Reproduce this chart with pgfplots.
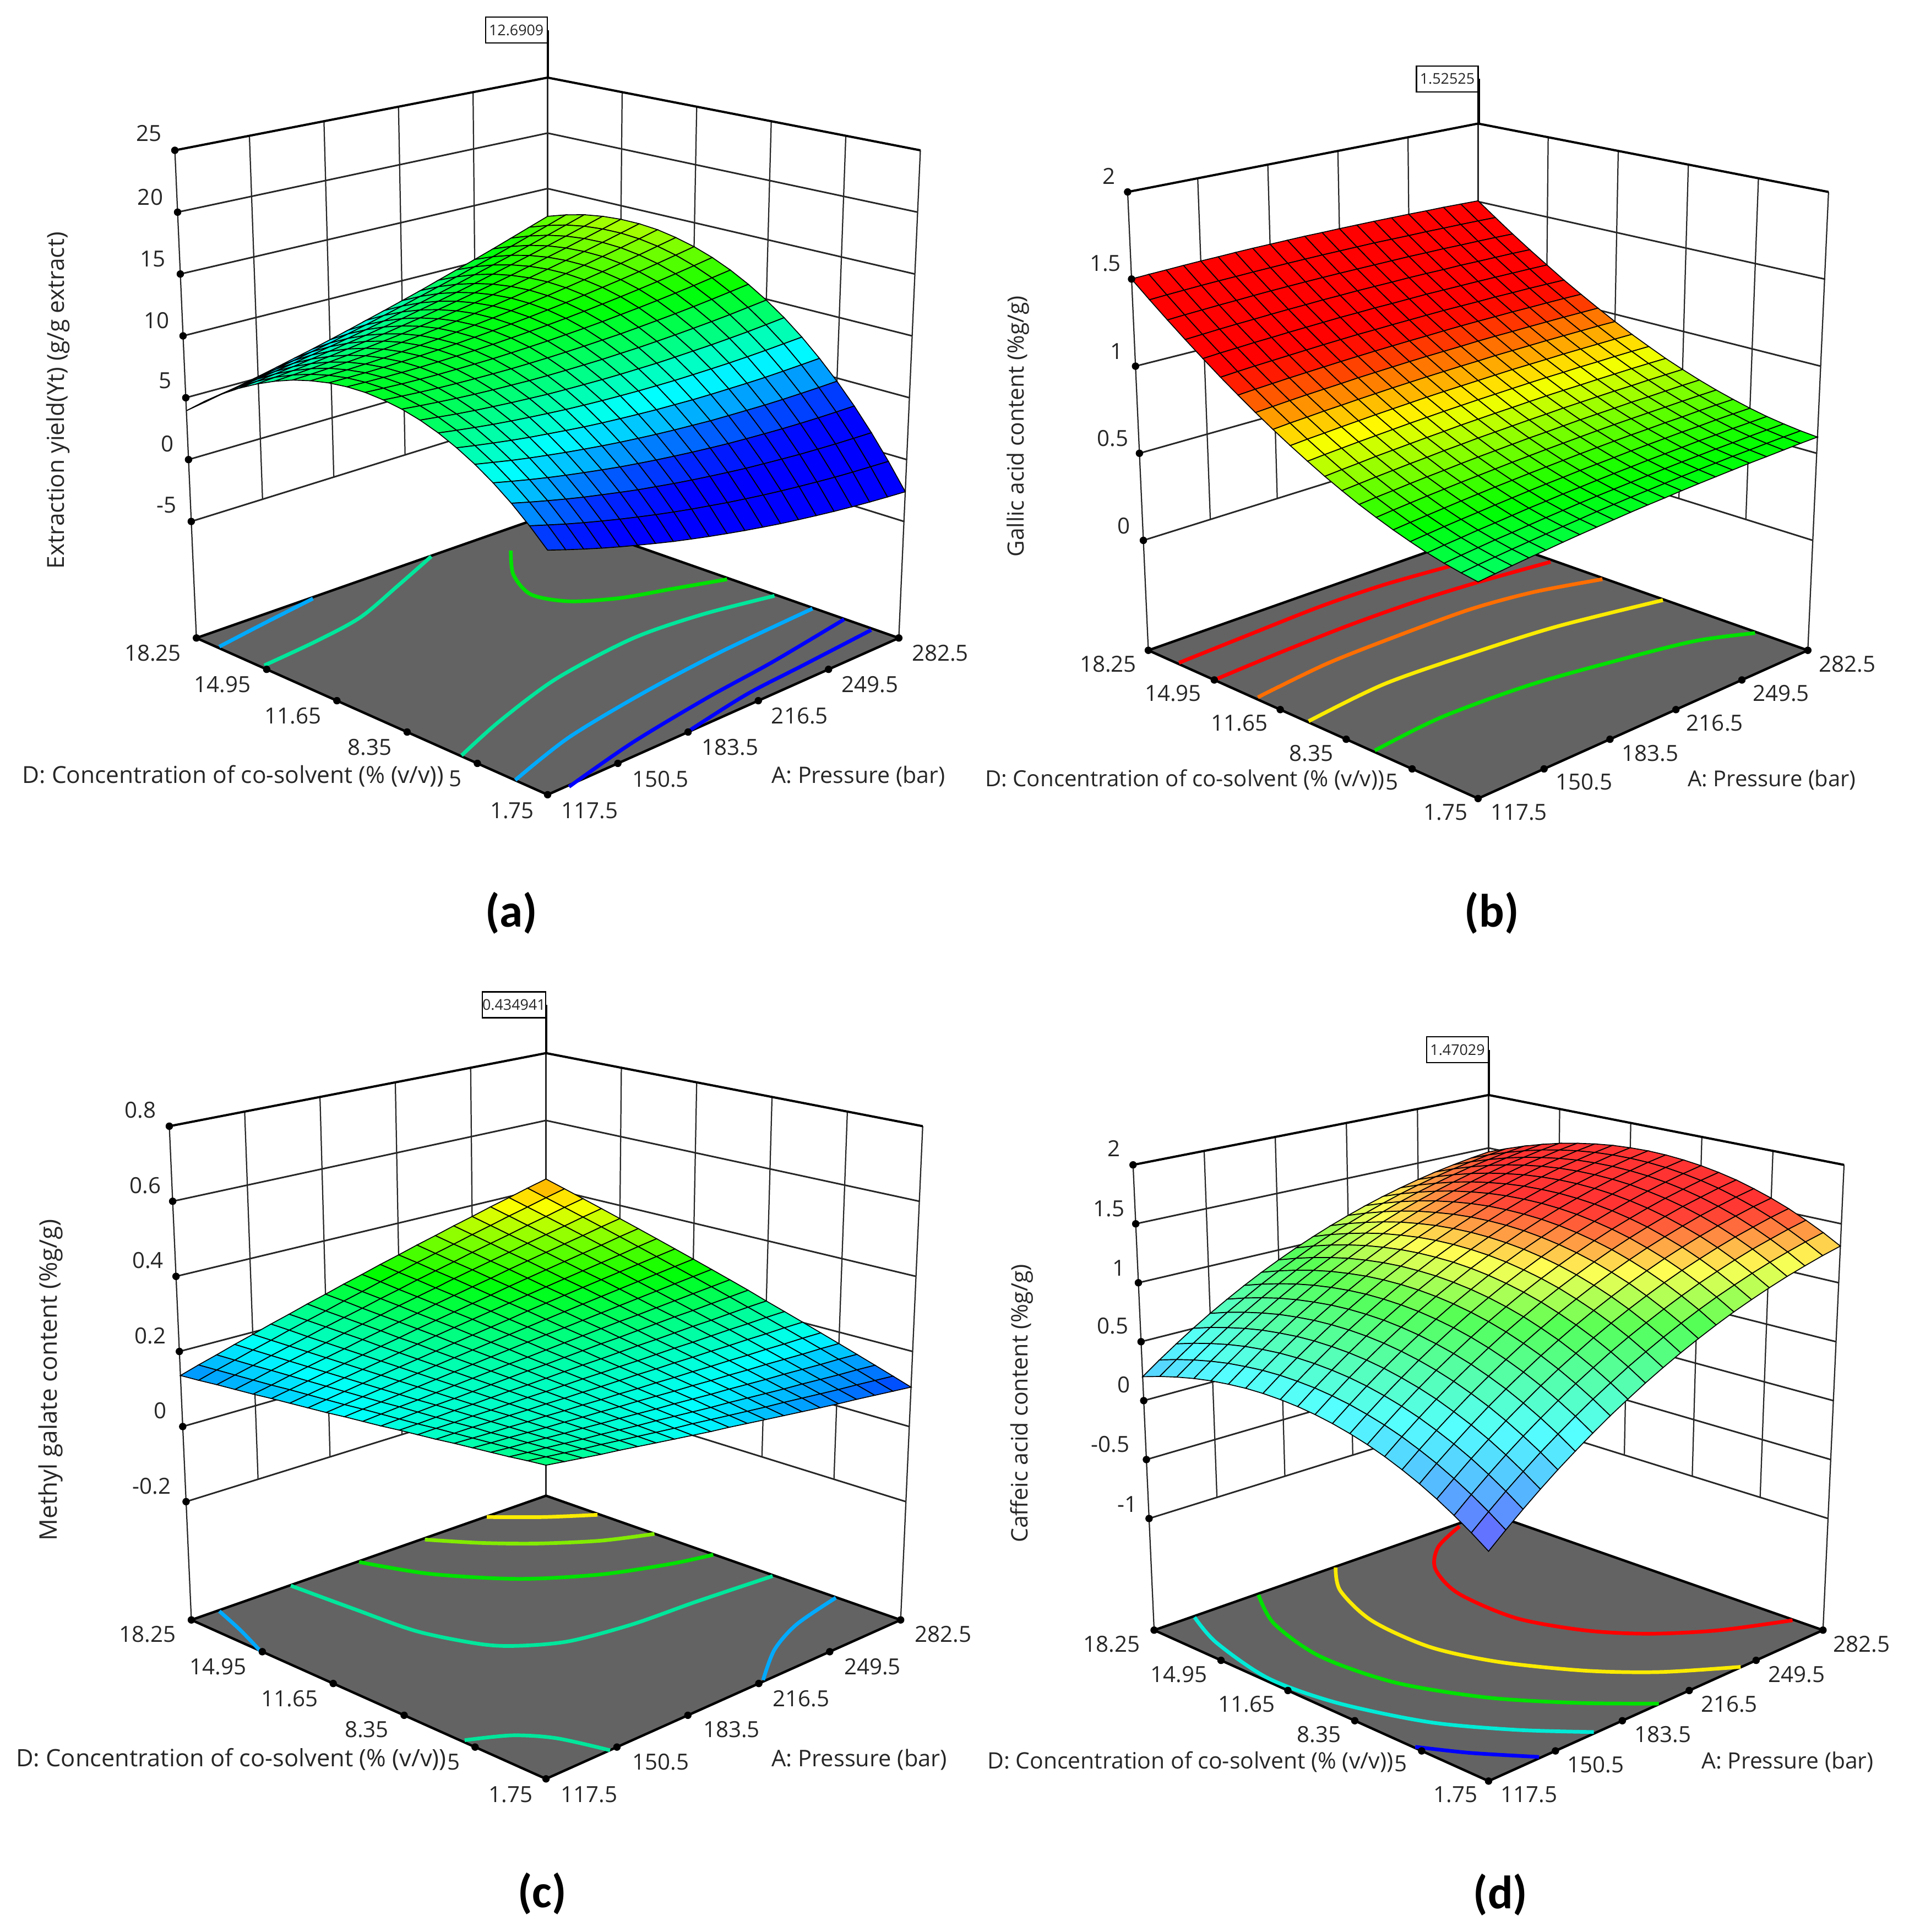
\documentclass[border=0pt]{standalone}
\usepackage{fontspec}
\setmainfont{Open Sans}
\newfontfamily\capfont{Carlito}
\usepackage{pgfplots}
\usepackage{pgfplotstable}
\pgfplotsset{compat=1.18}
\pgfplotsset{table/x index=0, table/y index=0}
\definecolor{ctblue}{RGB}{0,0,255}
\definecolor{ctsky}{RGB}{0,170,255}
\definecolor{ctteal}{RGB}{0,230,155}
\definecolor{ctaqua}{RGB}{0,235,215}
\definecolor{ctgreen}{RGB}{0,225,0}
\definecolor{ctlime}{RGB}{130,235,0}
\definecolor{ctyellow}{RGB}{250,235,0}
\definecolor{ctorange}{RGB}{255,110,0}
\definecolor{ctred}{RGB}{255,0,0}

% picture coordinates are the pixels of the 1549x1568 view, one panel box is mapped
% bilinearly: u along A (0 front, 1 right), v along D (0 front, 1 left), w height 0..1
\pgfkeys{/pgf/declare function={
  pxx(\uu,\vv,\ww)=\Xc+(\Wf+(\Wt-\Wf)*\ww)*(\uu-\vv);
  pyf(\uu,\vv)=\Yf+\dYf*(\uu+\vv)+\Ey*\uu*\vv;
  pyt(\uu,\vv)=\Yt+\dYt*(\uu+\vv)+\Ey*\uu*\vv;
  pyy(\uu,\vv,\ww)=(1-\ww)*pyf(\uu,\vv)+\ww*pyt(\uu,\vv);
  wf(\zz)=(\zz-\Zf)/(\Zt-\Zf);
}}
\newcommand{\setpanel}[1]{\setpanelx#1\relax}
\def\setpanelx#1,#2,#3,#4,#5,#6,#7,#8,#9\relax{%
  \def\Xc{#1}\def\Wf{#2}\def\Wt{#3}\def\Yf{#4}\def\dYf{#5}\def\Yt{#6}\def\dYt{#7}\def\Ey{#8}\setpanely#9\relax}
\def\setpanely#1,#2,#3\relax{\def\Zf{#1}\def\Zt{#2}\def\Zb{#3}}

% the row number has to survive the rounding of the float unit
\def\gR{floor((\coordindex+0.5)/21)}
\def\gU{(1-(\coordindex-21*\gR)/20)}
\def\gV{(1-\gR/20)}

\pgfplotsset{
  panel/.style={hide axis, scale only axis, width=1549pt, height=1568pt,
    xmin=0, xmax=1549, ymin=0, ymax=1568, y dir=reverse, clip=false,
    at={(0,0)}, anchor=south west},
  gline/.style={line width=1.3pt, black!85, forget plot},
  cont/.style={line width=3pt, smooth, forget plot, no markers},
}
\newcommand{\fsz}[1]{\fontsize{#1}{#1}\selectfont}
\tikzset{
  tl/.style={font=\fsz{18}, inner sep=0pt, text=black!85},
  captxt/.style={font=\capfont\bfseries\fontsize{38}{40}\selectfont, inner sep=0pt},
  flag/.style={font=\fontsize{12}{13}\selectfont, draw=black, line width=1pt, fill=white,
    inner sep=0pt, minimum height=21pt, text=black!85},
}

\pgfplotstableread{
t
0
1
}\tabSeg
\pgfplotstableread{
u v
0 1
1 1
1 0
}\tabLvl
\pgfplotstableread{
u v
0 0
1 0
1 1
0 1
0 0
}\tabFloor
\pgfplotstableread{
u v
0 1
0 0.8
0 0.6
0 0.4
0 0.2
0 0
0.2 0
0.4 0
0.6 0
0.8 0
1 0
}\tabDots
\pgfplotstableread{
u v
0 1
}\tabPt

% walls, tick levels and floor of one box, #1 = the tick levels of the height axis
\newcommand{\panelbox}[1]{%
  \pgfplotsinvokeforeach{0.2,0.4,0.6,0.8}{%
    \addplot[gline, line width=1pt] table[x expr={pxx(##1,1,wf(\Zb+(\Zt-\Zb)*\thisrow{t}))},
      y expr={pyy(##1,1,wf(\Zb+(\Zt-\Zb)*\thisrow{t}))}]{\tabSeg};
    \addplot[gline, line width=1pt] table[x expr={pxx(1,##1,wf(\Zb+(\Zt-\Zb)*\thisrow{t}))},
      y expr={pyy(1,##1,wf(\Zb+(\Zt-\Zb)*\thisrow{t}))}]{\tabSeg};
  }
  \addplot[gline, line width=1pt] table[x expr={pxx(0,1,\thisrow{t})}, y expr={pyy(0,1,\thisrow{t})}]{\tabSeg};
  \addplot[gline, line width=1pt] table[x expr={pxx(1,0,\thisrow{t})}, y expr={pyy(1,0,\thisrow{t})}]{\tabSeg};
  \addplot[gline, line width=1.2pt] table[x expr={pxx(1,1,\thisrow{t})}, y expr={pyy(1,1,\thisrow{t})}]{\tabSeg};
  \pgfplotsinvokeforeach{#1}{%
    \addplot[gline] table[x expr={pxx(\thisrow{u},\thisrow{v},wf(##1))},
      y expr={pyy(\thisrow{u},\thisrow{v},wf(##1))}]{\tabLvl};
    \addplot[only marks, mark=*, mark size=2.8pt, black, forget plot] table[x expr={pxx(0,1,wf(##1))},
      y expr={pyy(0,1,wf(##1))}]{\tabPt};
  }
  \addplot[line width=1.8pt, black, forget plot] table[x expr={pxx(\thisrow{u},\thisrow{v},1)},
    y expr={pyy(\thisrow{u},\thisrow{v},1)}]{\tabLvl};
  \addplot[line width=2pt, black, fill=black!61, forget plot] table[x expr={pxx(\thisrow{u},\thisrow{v},0)},
    y expr={pyy(\thisrow{u},\thisrow{v},0)}]{\tabFloor};
  \addplot[only marks, mark=*, mark size=2.8pt, black, forget plot] table[x expr={pxx(\thisrow{u},\thisrow{v},0)},
    y expr={pyy(\thisrow{u},\thisrow{v},0)}]{\tabDots};
}
\newcommand{\meshsurf}[1]{%
  \addplot[surf, shader=faceted, faceted color=black, line width=0.75pt, mesh/rows=21, mesh/cols=21,
    point meta=\thisrow{z}, forget plot] table[x expr={pxx(\gU,\gV,wf(\thisrow{z}))},
    y expr={pyy(\gU,\gV,wf(\thisrow{z}))}]{#1};
}
% flag: right edge x, box centre y, y of the back top corner
\newcommand{\flagnote}[4]{%
  \addplot[line width=2pt, black, forget plot] coordinates {(#1,#2) (#1,#3)};
  \node[flag, anchor=east, minimum width=50pt] at (axis cs:#1,#2) {#4};
}

% Extraction yield, rows v=1..0, columns u=1..0
\pgfplotstableread[row sep=\\]{
z\\
12.50\\11.92\\11.35\\10.79\\10.26\\9.75\\9.25\\8.75\\8.29\\7.84\\7.41\\6.98\\6.58\\6.19\\5.83\\5.47\\5.13\\4.81\\4.51\\4.22\\3.95\\
13.03\\12.48\\11.95\\11.43\\10.93\\10.46\\9.99\\9.54\\9.11\\8.69\\8.30\\7.91\\7.55\\7.19\\6.87\\6.55\\6.24\\5.96\\5.69\\5.45\\5.21\\
13.43\\12.92\\12.42\\11.94\\11.48\\11.04\\10.61\\10.19\\9.80\\9.42\\9.06\\8.71\\8.38\\8.06\\7.78\\7.50\\7.23\\6.98\\6.75\\6.54\\6.34\\
13.68\\13.21\\12.75\\12.31\\11.88\\11.48\\11.09\\10.70\\10.35\\10.01\\9.69\\9.37\\9.08\\8.80\\8.55\\8.30\\8.07\\7.86\\7.67\\7.49\\7.33\\
13.80\\13.36\\12.94\\12.53\\12.15\\11.78\\11.42\\11.08\\10.76\\10.46\\10.17\\9.89\\9.64\\9.39\\9.18\\8.97\\8.77\\8.60\\8.44\\8.31\\8.18\\
13.79\\13.39\\13.00\\12.63\\12.28\\11.95\\11.63\\11.32\\11.04\\10.77\\10.52\\10.28\\10.07\\9.86\\9.68\\9.51\\9.35\\9.21\\9.09\\8.99\\8.90\\
13.65\\13.28\\12.93\\12.60\\12.28\\11.99\\11.71\\11.44\\11.19\\10.96\\10.75\\10.54\\10.36\\10.19\\10.05\\9.91\\9.79\\9.69\\9.61\\9.54\\9.49\\
13.35\\13.03\\12.71\\12.41\\12.14\\11.88\\11.64\\11.40\\11.19\\11.00\\10.82\\10.66\\10.51\\10.37\\10.27\\10.17\\10.08\\10.02\\9.97\\9.95\\9.93\\
12.94\\12.65\\12.37\\12.11\\11.87\\11.65\\11.44\\11.24\\11.07\\10.91\\10.77\\10.65\\10.54\\10.44\\10.37\\10.31\\10.26\\10.23\\10.22\\10.23\\10.25\\
12.39\\12.13\\11.89\\11.67\\11.47\\11.28\\11.11\\10.95\\10.81\\10.69\\10.59\\10.50\\10.42\\10.36\\10.33\\10.30\\10.29\\10.30\\10.33\\10.37\\10.43\\
11.70\\11.49\\11.28\\11.10\\10.93\\10.78\\10.65\\10.52\\10.42\\10.34\\10.27\\10.22\\10.18\\10.15\\10.16\\10.17\\10.19\\10.24\\10.30\\10.39\\10.48\\
10.87\\10.69\\10.52\\10.37\\10.24\\10.13\\10.03\\9.94\\9.89\\9.84\\9.81\\9.79\\9.79\\9.80\\9.84\\9.89\\9.95\\10.03\\10.13\\10.25\\10.38\\
9.92\\9.78\\9.64\\9.53\\9.44\\9.36\\9.30\\9.25\\9.23\\9.21\\9.22\\9.24\\9.27\\9.32\\9.40\\9.48\\9.58\\9.70\\9.84\\9.99\\10.16\\
8.83\\8.72\\8.62\\8.55\\8.49\\8.46\\8.43\\8.41\\8.43\\8.45\\8.49\\8.55\\8.62\\8.70\\8.82\\8.94\\9.08\\9.23\\9.40\\9.60\\9.80\\
7.60\\7.54\\7.48\\7.44\\7.42\\7.42\\7.43\\7.45\\7.50\\7.56\\7.64\\7.73\\7.84\\7.96\\8.11\\8.27\\8.44\\8.63\\8.84\\9.07\\9.31\\
6.23\\6.20\\6.18\\6.17\\6.19\\6.23\\6.27\\6.33\\6.42\\6.51\\6.63\\6.76\\6.90\\7.06\\7.25\\7.45\\7.65\\7.88\\8.13\\8.39\\8.67\\
4.74\\4.74\\4.76\\4.79\\4.84\\4.92\\5.00\\5.09\\5.22\\5.35\\5.50\\5.67\\5.85\\6.05\\6.27\\6.50\\6.75\\7.01\\7.29\\7.60\\7.91\\
3.11\\3.15\\3.20\\3.27\\3.36\\3.47\\3.59\\3.72\\3.88\\4.05\\4.24\\4.44\\4.66\\4.89\\5.15\\5.42\\5.70\\6.00\\6.32\\6.66\\7.01\\
1.34\\1.42\\1.51\\1.62\\1.74\\1.89\\2.05\\2.21\\2.41\\2.62\\2.84\\3.08\\3.34\\3.60\\3.90\\4.21\\4.52\\4.86\\5.22\\5.59\\5.98\\
-.57\\-.45\\-.33\\-.19\\-.02\\.16\\.35\\.56\\.79\\1.03\\1.30\\1.57\\1.86\\2.17\\2.50\\2.84\\3.20\\3.57\\3.96\\4.38\\4.80\\
-2.60\\-2.45\\-2.29\\-2.11\\-1.91\\-1.69\\-1.46\\-1.22\\-.95\\-.67\\-.37\\-.06\\.27\\.61\\.98\\1.36\\1.75\\2.16\\2.59\\3.04\\3.50\\
}\tabA
% Gallic acid
\pgfplotstableread[row sep=\\]{
z\\
1.505\\1.509\\1.513\\1.515\\1.518\\1.520\\1.522\\1.523\\1.524\\1.524\\1.525\\1.524\\1.523\\1.522\\1.520\\1.517\\1.515\\1.512\\1.508\\1.505\\1.500\\
1.423\\1.427\\1.430\\1.432\\1.435\\1.436\\1.438\\1.440\\1.440\\1.440\\1.440\\1.439\\1.438\\1.436\\1.434\\1.431\\1.429\\1.426\\1.422\\1.418\\1.413\\
1.344\\1.348\\1.351\\1.353\\1.356\\1.357\\1.359\\1.359\\1.359\\1.359\\1.359\\1.358\\1.357\\1.355\\1.353\\1.350\\1.346\\1.343\\1.339\\1.335\\1.330\\
1.270\\1.274\\1.276\\1.278\\1.281\\1.281\\1.283\\1.284\\1.283\\1.283\\1.283\\1.281\\1.280\\1.277\\1.275\\1.272\\1.268\\1.265\\1.261\\1.256\\1.251\\
1.200\\1.203\\1.205\\1.207\\1.209\\1.210\\1.211\\1.212\\1.211\\1.210\\1.210\\1.208\\1.207\\1.204\\1.201\\1.198\\1.194\\1.191\\1.186\\1.182\\1.176\\
1.132\\1.135\\1.138\\1.139\\1.141\\1.141\\1.142\\1.143\\1.142\\1.141\\1.140\\1.138\\1.137\\1.134\\1.131\\1.127\\1.123\\1.119\\1.115\\1.110\\1.104\\
1.070\\1.073\\1.075\\1.076\\1.078\\1.078\\1.079\\1.079\\1.078\\1.076\\1.075\\1.073\\1.071\\1.068\\1.065\\1.061\\1.057\\1.053\\1.048\\1.043\\1.037\\
1.011\\1.013\\1.015\\1.016\\1.017\\1.017\\1.018\\1.018\\1.016\\1.015\\1.014\\1.012\\1.009\\1.006\\1.003\\.998\\.994\\.990\\.985\\.979\\.973\\
.955\\.958\\.959\\.960\\.961\\.961\\.961\\.961\\.959\\.958\\.956\\.954\\.951\\.948\\.944\\.940\\.935\\.931\\.925\\.920\\.913\\
.904\\.906\\.907\\.908\\.909\\.908\\.908\\.908\\.906\\.904\\.902\\.900\\.897\\.893\\.889\\.885\\.880\\.875\\.869\\.864\\.857\\
.857\\.859\\.860\\.860\\.861\\.860\\.860\\.859\\.857\\.855\\.853\\.850\\.847\\.843\\.839\\.834\\.829\\.824\\.818\\.812\\.805\\
.812\\.814\\.815\\.815\\.815\\.814\\.814\\.813\\.811\\.808\\.806\\.803\\.800\\.795\\.791\\.786\\.781\\.776\\.769\\.763\\.756\\
.773\\.774\\.775\\.774\\.775\\.774\\.773\\.772\\.769\\.767\\.764\\.761\\.758\\.753\\.749\\.743\\.738\\.732\\.726\\.719\\.712\\
.737\\.738\\.738\\.737\\.738\\.736\\.735\\.734\\.731\\.728\\.726\\.722\\.718\\.714\\.709\\.703\\.698\\.692\\.685\\.679\\.671\\
.705\\.706\\.706\\.705\\.705\\.704\\.703\\.701\\.698\\.695\\.692\\.688\\.684\\.679\\.674\\.669\\.663\\.657\\.650\\.643\\.635\\
.677\\.678\\.678\\.676\\.676\\.674\\.673\\.671\\.668\\.665\\.661\\.657\\.653\\.648\\.643\\.637\\.631\\.624\\.617\\.610\\.602\\
.652\\.653\\.653\\.651\\.651\\.649\\.647\\.645\\.641\\.638\\.635\\.630\\.626\\.621\\.615\\.609\\.602\\.596\\.589\\.581\\.573\\
.631\\.631\\.631\\.629\\.629\\.626\\.624\\.622\\.618\\.615\\.611\\.606\\.602\\.596\\.591\\.584\\.577\\.571\\.563\\.556\\.547\\
.615\\.615\\.614\\.612\\.611\\.609\\.607\\.604\\.600\\.596\\.592\\.588\\.583\\.577\\.571\\.564\\.557\\.551\\.543\\.535\\.526\\
.602\\.602\\.601\\.599\\.598\\.595\\.593\\.590\\.586\\.582\\.578\\.573\\.568\\.561\\.555\\.548\\.541\\.534\\.526\\.518\\.509\\
.593\\.593\\.591\\.589\\.588\\.585\\.582\\.579\\.575\\.570\\.566\\.561\\.555\\.549\\.543\\.536\\.528\\.521\\.513\\.504\\.495\\
}\tabB
% Methyl galate
\pgfplotstableread[row sep=\\]{
z\\
.426\\.412\\.397\\.383\\.368\\.354\\.339\\.325\\.310\\.296\\.281\\.267\\.252\\.238\\.223\\.209\\.194\\.180\\.165\\.151\\.136\\
.410\\.397\\.383\\.370\\.356\\.343\\.329\\.316\\.303\\.289\\.276\\.262\\.249\\.235\\.222\\.209\\.195\\.182\\.168\\.155\\.141\\
.394\\.382\\.369\\.357\\.344\\.332\\.320\\.307\\.295\\.283\\.270\\.258\\.245\\.233\\.221\\.208\\.196\\.184\\.171\\.159\\.147\\
.378\\.367\\.355\\.344\\.333\\.321\\.310\\.299\\.288\\.276\\.265\\.254\\.242\\.231\\.220\\.208\\.197\\.186\\.175\\.163\\.152\\
.362\\.352\\.341\\.331\\.321\\.311\\.301\\.290\\.280\\.270\\.260\\.249\\.239\\.229\\.219\\.208\\.198\\.188\\.178\\.167\\.157\\
.346\\.337\\.327\\.318\\.309\\.300\\.291\\.282\\.272\\.263\\.254\\.245\\.236\\.226\\.217\\.208\\.199\\.190\\.181\\.172\\.163\\
.330\\.322\\.313\\.305\\.297\\.289\\.281\\.273\\.265\\.257\\.249\\.241\\.233\\.225\\.216\\.208\\.200\\.192\\.184\\.176\\.168\\
.314\\.307\\.300\\.293\\.286\\.279\\.272\\.265\\.258\\.250\\.243\\.236\\.229\\.222\\.215\\.208\\.201\\.194\\.187\\.180\\.173\\
.298\\.292\\.286\\.280\\.274\\.268\\.262\\.256\\.250\\.244\\.238\\.232\\.226\\.220\\.214\\.208\\.202\\.196\\.190\\.184\\.178\\
.282\\.277\\.272\\.267\\.262\\.257\\.252\\.247\\.242\\.238\\.233\\.228\\.223\\.218\\.213\\.208\\.203\\.198\\.193\\.189\\.184\\
.266\\.262\\.258\\.254\\.250\\.246\\.243\\.239\\.235\\.231\\.227\\.223\\.220\\.216\\.212\\.208\\.204\\.200\\.197\\.193\\.189\\
.250\\.247\\.244\\.241\\.239\\.236\\.233\\.230\\.228\\.225\\.222\\.219\\.217\\.214\\.211\\.208\\.205\\.203\\.200\\.197\\.194\\
.233\\.232\\.230\\.228\\.227\\.225\\.223\\.222\\.220\\.218\\.217\\.215\\.213\\.211\\.210\\.208\\.206\\.205\\.203\\.201\\.200\\
.217\\.217\\.216\\.216\\.215\\.214\\.214\\.213\\.212\\.212\\.211\\.211\\.210\\.209\\.209\\.208\\.207\\.207\\.206\\.206\\.205\\
.201\\.202\\.202\\.203\\.203\\.204\\.204\\.205\\.205\\.206\\.206\\.206\\.207\\.207\\.208\\.208\\.209\\.209\\.210\\.210\\.210\\
.185\\.187\\.188\\.190\\.191\\.193\\.194\\.196\\.197\\.199\\.200\\.202\\.203\\.205\\.206\\.208\\.209\\.211\\.212\\.214\\.216\\
.169\\.172\\.174\\.177\\.180\\.182\\.185\\.187\\.190\\.192\\.195\\.198\\.200\\.203\\.205\\.208\\.210\\.213\\.216\\.218\\.221\\
.153\\.157\\.160\\.164\\.168\\.171\\.175\\.179\\.182\\.186\\.190\\.193\\.197\\.201\\.204\\.208\\.211\\.215\\.219\\.222\\.226\\
.137\\.142\\.146\\.151\\.156\\.160\\.165\\.170\\.175\\.179\\.184\\.189\\.194\\.198\\.203\\.208\\.212\\.217\\.222\\.226\\.231\\
.121\\.127\\.133\\.138\\.144\\.150\\.156\\.161\\.167\\.173\\.179\\.185\\.190\\.196\\.202\\.208\\.214\\.219\\.225\\.231\\.237\\
.105\\.112\\.119\\.126\\.132\\.139\\.146\\.153\\.160\\.167\\.174\\.180\\.187\\.194\\.201\\.208\\.215\\.221\\.228\\.235\\.242\\
}\tabC
% Caffeic acid
\pgfplotstableread[row sep=\\]{
z\\
1.463\\1.441\\1.414\\1.384\\1.349\\1.309\\1.266\\1.218\\1.165\\1.109\\1.048\\.983\\.913\\.840\\.762\\.679\\.593\\.502\\.406\\.307\\.203\\
1.529\\1.507\\1.479\\1.449\\1.413\\1.373\\1.329\\1.280\\1.227\\1.170\\1.109\\1.044\\.972\\.899\\.820\\.737\\.651\\.559\\.462\\.362\\.258\\
1.588\\1.565\\1.536\\1.506\\1.469\\1.428\\1.384\\1.335\\1.281\\1.223\\1.161\\1.096\\1.024\\.950\\.870\\.787\\.700\\.607\\.510\\.410\\.305\\
1.639\\1.616\\1.587\\1.555\\1.518\\1.477\\1.432\\1.382\\1.328\\1.269\\1.207\\1.141\\1.068\\.994\\.914\\.830\\.742\\.649\\.552\\.450\\.345\\
1.683\\1.659\\1.629\\1.597\\1.559\\1.517\\1.472\\1.421\\1.367\\1.308\\1.245\\1.178\\1.105\\1.030\\.949\\.864\\.777\\.683\\.585\\.483\\.377\\
1.717\\1.693\\1.662\\1.630\\1.591\\1.549\\1.503\\1.452\\1.396\\1.337\\1.273\\1.206\\1.133\\1.057\\.976\\.890\\.802\\.707\\.609\\.506\\.400\\
1.745\\1.720\\1.689\\1.656\\1.617\\1.574\\1.528\\1.476\\1.420\\1.360\\1.296\\1.228\\1.154\\1.078\\.996\\.910\\.821\\.726\\.627\\.524\\.417\\
1.765\\1.739\\1.708\\1.674\\1.634\\1.591\\1.544\\1.492\\1.435\\1.374\\1.310\\1.241\\1.167\\1.090\\1.008\\.921\\.831\\.736\\.636\\.533\\.425\\
1.776\\1.750\\1.718\\1.684\\1.644\\1.599\\1.552\\1.499\\1.442\\1.381\\1.316\\1.246\\1.171\\1.094\\1.011\\.924\\.834\\.737\\.637\\.533\\.425\\
1.781\\1.754\\1.721\\1.686\\1.646\\1.601\\1.553\\1.499\\1.442\\1.380\\1.314\\1.245\\1.169\\1.091\\1.007\\.920\\.829\\.732\\.631\\.527\\.418\\
1.777\\1.750\\1.716\\1.681\\1.640\\1.594\\1.546\\1.492\\1.434\\1.371\\1.305\\1.235\\1.158\\1.080\\.996\\.907\\.816\\.719\\.618\\.512\\.403\\
1.765\\1.738\\1.704\\1.668\\1.626\\1.580\\1.531\\1.476\\1.417\\1.355\\1.288\\1.217\\1.140\\1.061\\.976\\.887\\.795\\.698\\.596\\.490\\.380\\
1.746\\1.717\\1.683\\1.646\\1.604\\1.558\\1.508\\1.453\\1.393\\1.330\\1.262\\1.191\\1.114\\1.034\\.949\\.859\\.767\\.668\\.566\\.459\\.349\\
1.719\\1.690\\1.655\\1.618\\1.575\\1.528\\1.478\\1.422\\1.362\\1.298\\1.230\\1.158\\1.080\\1.000\\.914\\.824\\.731\\.632\\.529\\.422\\.311\\
1.685\\1.655\\1.619\\1.582\\1.538\\1.491\\1.440\\1.384\\1.323\\1.258\\1.190\\1.117\\1.039\\.958\\.871\\.781\\.687\\.588\\.484\\.377\\.265\\
1.641\\1.611\\1.575\\1.537\\1.492\\1.444\\1.393\\1.336\\1.275\\1.210\\1.140\\1.067\\.988\\.907\\.820\\.729\\.635\\.534\\.430\\.322\\.210\\
1.591\\1.561\\1.524\\1.485\\1.441\\1.392\\1.340\\1.282\\1.221\\1.155\\1.085\\1.011\\.932\\.850\\.762\\.671\\.576\\.475\\.370\\.262\\.149\\
1.533\\1.502\\1.464\\1.425\\1.380\\1.330\\1.278\\1.220\\1.157\\1.091\\1.021\\.947\\.866\\.784\\.696\\.603\\.508\\.407\\.302\\.192\\.079\\
1.466\\1.434\\1.396\\1.357\\1.311\\1.261\\1.208\\1.149\\1.086\\1.019\\.949\\.874\\.793\\.710\\.621\\.528\\.432\\.331\\.225\\.115\\.001\\
1.393\\1.360\\1.322\\1.281\\1.235\\1.184\\1.131\\1.072\\1.008\\.941\\.869\\.794\\.712\\.629\\.540\\.446\\.350\\.247\\.141\\.030\\-.084\\
1.311\\1.278\\1.239\\1.198\\1.151\\1.100\\1.046\\.986\\.922\\.854\\.782\\.706\\.624\\.540\\.450\\.356\\.259\\.156\\.049\\-.062\\-.177\\
}\tabD

\begin{document}
\begin{tikzpicture}
\useasboundingbox (0,0) rectangle (1549pt,1568pt);

% ---------- (a)
\setpanel{444.4,285,302.5,645,-127.2,208.4,-86.4,27.4,-14.42,25,-5}
\begin{axis}[panel, colormap={ca}{rgb255=(0,0,255) rgb255=(0,255,255) rgb255=(0,255,0) rgb255=(255,255,0) rgb255=(255,0,0)},
  point meta min=3, point meta max=19]
\flagnote{444.5}{24.5}{63}{12.6909}
\panelbox{-5,0,5,10,15,20,25}
\addplot[cont, color=ctsky] coordinates {(178,524.8) (215.5,505.3) (254,485.8)};
\addplot[cont, color=ctteal] coordinates {(214.5,540) (256.6,520.4) (292.5,501) (323.3,475) (350,451.6)};
\addplot[cont, color=ctgreen] coordinates {(414.6,446.8) (416.6,466.3) (431,482.5) (461.8,488) (502.8,485.4) (543.9,478.2) (590,470.2)};
\addplot[cont, color=ctteal] coordinates {(374.6,613.1) (405.3,585.4) (451.5,550.8) (513.1,518.3) (569.5,498.8) (628.5,483.6)};
\addplot[cont, color=ctsky] coordinates {(418.2,633.1) (461.8,598.4) (523.4,561.6) (584.9,529.1) (659.3,494)};
\addplot[cont, color=ctblue] coordinates {(461.8,638.5) (513.1,602.8) (574.7,565.9) (626,537.8) (685,502.7)};
\addplot[cont, color=ctblue] coordinates {(559.3,593) (605.5,563.8) (651.6,540) (707,511.3)};
\meshsurf{\tabA}
\foreach \t/\x/\y in {25/121/108,20/122/160,15/124/210,10/127/260,5/134/309,0/136/360,-5/135/410,
  18.25/124/530,14.95/180.6/555.5,11.65/237.6/581,8.35/300/606.6,5/369.4/632,1.75/415.6/658,
  117.5/478.7/658,150.5/536/632.6,183.5/592.6/606.6,216.5/649/581,249.5/706/555.5,282.5/763/530}
  {\edef\tmp{\noexpand\node[tl] at (axis cs:\x,\y) {\t};}\tmp}
\node[tl, anchor=west, font=\fsz{19}] at (axis cs:18,630) {D: Concentration of co-solvent (\% (v/v))};
\node[tl, anchor=west, font=\fsz{18.4}] at (axis cs:626,630) {A: Pressure (bar)};
\node[tl, rotate=90, font=\fsz{19}] at (axis cs:47,325) {Extraction yield(Yt) (g/g extract)};
\node[captxt] at (axis cs:415,741) {(a)};
\end{axis}

% ---------- (b)
\setpanel{1199.5,267.6,284.4,648.1,-120.3,237.3,-81.5,26,-.631,2,0}
\begin{axis}[panel, colormap={cb}{rgb255=(0,0,255) rgb255=(0,255,255) rgb255=(0,255,0) rgb255=(255,255,0) rgb255=(255,0,0)},
  point meta min=.1, point meta max=1.1]
\flagnote{1200}{64}{100.3}{1.52525}
\panelbox{0,0.5,1,1.5,2}
\addplot[cont, color=ctred] coordinates {(956.8,537.9) (1015.2,514.5) (1071.3,492.3) (1122.8,474.7) (1176.5,459.6)};
\addplot[cont, color=ctred] coordinates {(988.1,550.7) (1038.6,529.7) (1094.7,507.5) (1150.8,487.6) (1199.9,472.4) (1258.3,456)};
\addplot[cont, color=ctorange] coordinates {(1020.8,565.9) (1076,539) (1132.1,516.8) (1192.9,494.6) (1244.3,480.6) (1300.4,470.1)};
\addplot[cont, color=ctyellow] coordinates {(1062,585.3) (1122.8,555.4) (1192.9,530.8) (1263,508.6) (1349.5,487.1)};
\addplot[cont, color=ctgreen] coordinates {(1115.7,609.1) (1169.5,582.2) (1239.6,556.5) (1309.8,536.7) (1375.2,520.3) (1424.3,513.8)};
\meshsurf{\tabB}
\foreach \t/\x/\y in {2/900/143,1.5/897/214,1/906/285,0.5/903/356,0/912/427,
  18.25/899.3/539,14.95/952/562.8,11.65/1005.9/587,8.35/1064.3/611.5,5/1129.8/634.8,1.75/1173.2/659.4,
  117.5/1232.6/659.4,150.5/1285.4/634.8,183.5/1339.2/611.5,216.5/1391.6/587,249.5/1445.3/562.8,282.5/1499/539}
  {\edef\tmp{\noexpand\node[tl] at (axis cs:\x,\y) {\t};}\tmp}
\node[tl, anchor=west, font=\fsz{18}] at (axis cs:799.2,633) {D: Concentration of co-solvent (\% (v/v))};
\node[tl, anchor=west, font=\fsz{17.8}] at (axis cs:1369.6,633) {A: Pressure (bar)};
\node[tl, rotate=90, font=\fsz{18.2}] at (axis cs:826,346) {Gallic acid content (\%g/g)};
\node[captxt] at (axis cs:1210.6,741) {(b)};
\end{axis}

% ---------- (c)
\setpanel{443.1,287.8,305.7,1443.7,-129,1001.5,-87.5,28.2,-.515,.8,-.2}
\begin{axis}[panel, colormap={cc}{rgb255=(0,0,255) rgb255=(0,255,255) rgb255=(0,255,0) rgb255=(255,255,0) rgb255=(255,0,0)},
  point meta min=.085, point meta max=.485]
\flagnote{443.2}{815.5}{854.7}{0.434941}
\panelbox{-0.2,0,0.2,0.4,0.6,0.8}
\addplot[cont, color=ctyellow] coordinates {(395.1,1231.2) (441.3,1231.2) (484.9,1229.4)};
\addplot[cont, color=ctlime] coordinates {(344.8,1249.5) (390,1252.2) (436.1,1252.7) (487.4,1250.4) (531.1,1244.9)};
\addplot[cont, color=ctgreen] coordinates {(291.4,1267.7) (348.9,1277.3) (420.7,1281.4) (487.4,1277.8) (543.9,1269.3) (578.8,1261.8)};
\addplot[cont, color=ctteal] coordinates {(236,1286.9) (287.3,1305.8) (338.6,1324) (390,1334.3) (420.7,1335.7) (461.8,1332) (513.1,1318.3) (564.4,1300.1) (627,1279.1)};
\addplot[cont, color=ctsky] coordinates {(178,1307.6) (195,1322.9) (211.4,1340)};
\addplot[cont, color=ctsky] coordinates {(678.3,1296.7) (646.5,1318.3) (628.5,1338.9) (619.3,1363.5)};
\addplot[cont, color=ctteal] coordinates {(377.1,1412.3) (415.6,1408.4) (451.5,1410.7) (495.1,1420.5)};
\meshsurf{\tabC}
\foreach \t/\x/\y in {0.8/114/901,0.6/118/962,0.4/120/1023,0.2/122/1084,0/130/1145,-0.2/123/1206,
  18.25/119.6/1326.3,14.95/177/1352.5,11.65/235/1378.8,8.35/297.6/1403.8,5/368.4/1430,1.75/414.6/1456.3,
  117.5/478.2/1456.3,150.5/536.2/1430,183.5/593.6/1403.8,216.5/650/1378.8,249.5/708/1352.5,282.5/765.5/1326.3}
  {\edef\tmp{\noexpand\node[tl] at (axis cs:\x,\y) {\t};}\tmp}
\node[tl, anchor=west, font=\fsz{19.4}] at (axis cs:12.8,1428) {D: Concentration of co-solvent (\% (v/v))};
\node[tl, anchor=west, font=\fsz{18.6}] at (axis cs:626,1428) {A: Pressure (bar)};
\node[tl, rotate=90, font=\fsz{19.7}] at (axis cs:41,1120) {Methyl galate content (\%g/g)};
\node[captxt] at (axis cs:440,1537) {(c)};
\end{axis}

% ---------- (d)
\setpanel{1208,271.4,288.5,1445.5,-122.5,1029.6,-84.2,27.5,-1.947,2,-1}
\begin{axis}[panel, colormap={cd}{rgb255=(100,100,255) rgb255=(85,190,255) rgb255=(85,255,255) rgb255=(85,255,170) rgb255=(85,255,85) rgb255=(255,255,85) rgb255=(255,50,50)},
  point meta min=-.1, point meta max=1.55]
\flagnote{1208.3}{852}{888.7}{1.47029}
\panelbox{-1,-0.5,0,0.5,1,1.5,2}
\addplot[cont, color=ctred] coordinates {(1184.5,1238.7) (1167.2,1255.4) (1164.8,1273.2) (1183.5,1293.2) (1230.3,1313.2) (1286.4,1323.2) (1337.8,1325.9) (1393.9,1323.2) (1454.7,1315)};
\addplot[cont, color=ctyellow] coordinates {(1083.9,1272.1) (1087.7,1291) (1113.4,1315.4) (1160.2,1336.6) (1216.3,1348.8) (1286.4,1355.9) (1347.2,1357) (1412.6,1352.8)};
\addplot[cont, color=ctgreen] coordinates {(1021.3,1294.3) (1033.9,1317.7) (1071.3,1344.3) (1132.1,1365.5) (1206.9,1377.7) (1281.7,1382.1) (1346.2,1382.6)};
\addplot[cont, color=ctaqua] coordinates {(969.4,1312.5) (987.2,1333.2) (1029.3,1362.1) (1085.4,1382.1) (1160.2,1397.7) (1230.3,1403.9) (1293.4,1405.7)};
\addplot[cont, color=ctblue] coordinates {(1148.5,1417.7) (1192.9,1422.6) (1249,1425.9)};
\meshsurf{\tabD}
\foreach \t/\x/\y in {2/904/932,1.5/900/981,1/908/1029,0.5/903/1076,0/912/1124,-0.5/901/1172,-1/915/1221,
  18.25/902.1/1334.3,14.95/956.8/1358.8,11.65/1011.5/1383.2,8.35/1070.4/1407.7,5/1136.8/1431.5,1.75/1181.2/1456.6,
  117.5/1241/1456.6,150.5/1294.8/1432.1,183.5/1349.5/1407.7,216.5/1403.3/1383.2,249.5/1458/1358.8,282.5/1510.8/1334.3}
  {\edef\tmp{\noexpand\node[tl] at (axis cs:\x,\y) {\t};}\tmp}
\node[tl, anchor=west, font=\fsz{18.3}] at (axis cs:801.1,1430) {D: Concentration of co-solvent (\% (v/v))};
\node[tl, anchor=west, font=\fsz{18.2}] at (axis cs:1380.8,1430) {A: Pressure (bar)};
\node[tl, rotate=90, font=\fsz{18.4}] at (axis cs:829,1139) {Caffeic acid content (\%g/g)};
\node[captxt] at (axis cs:1217.6,1537.7) {(d)};
\end{axis}
\end{tikzpicture}
\end{document}
